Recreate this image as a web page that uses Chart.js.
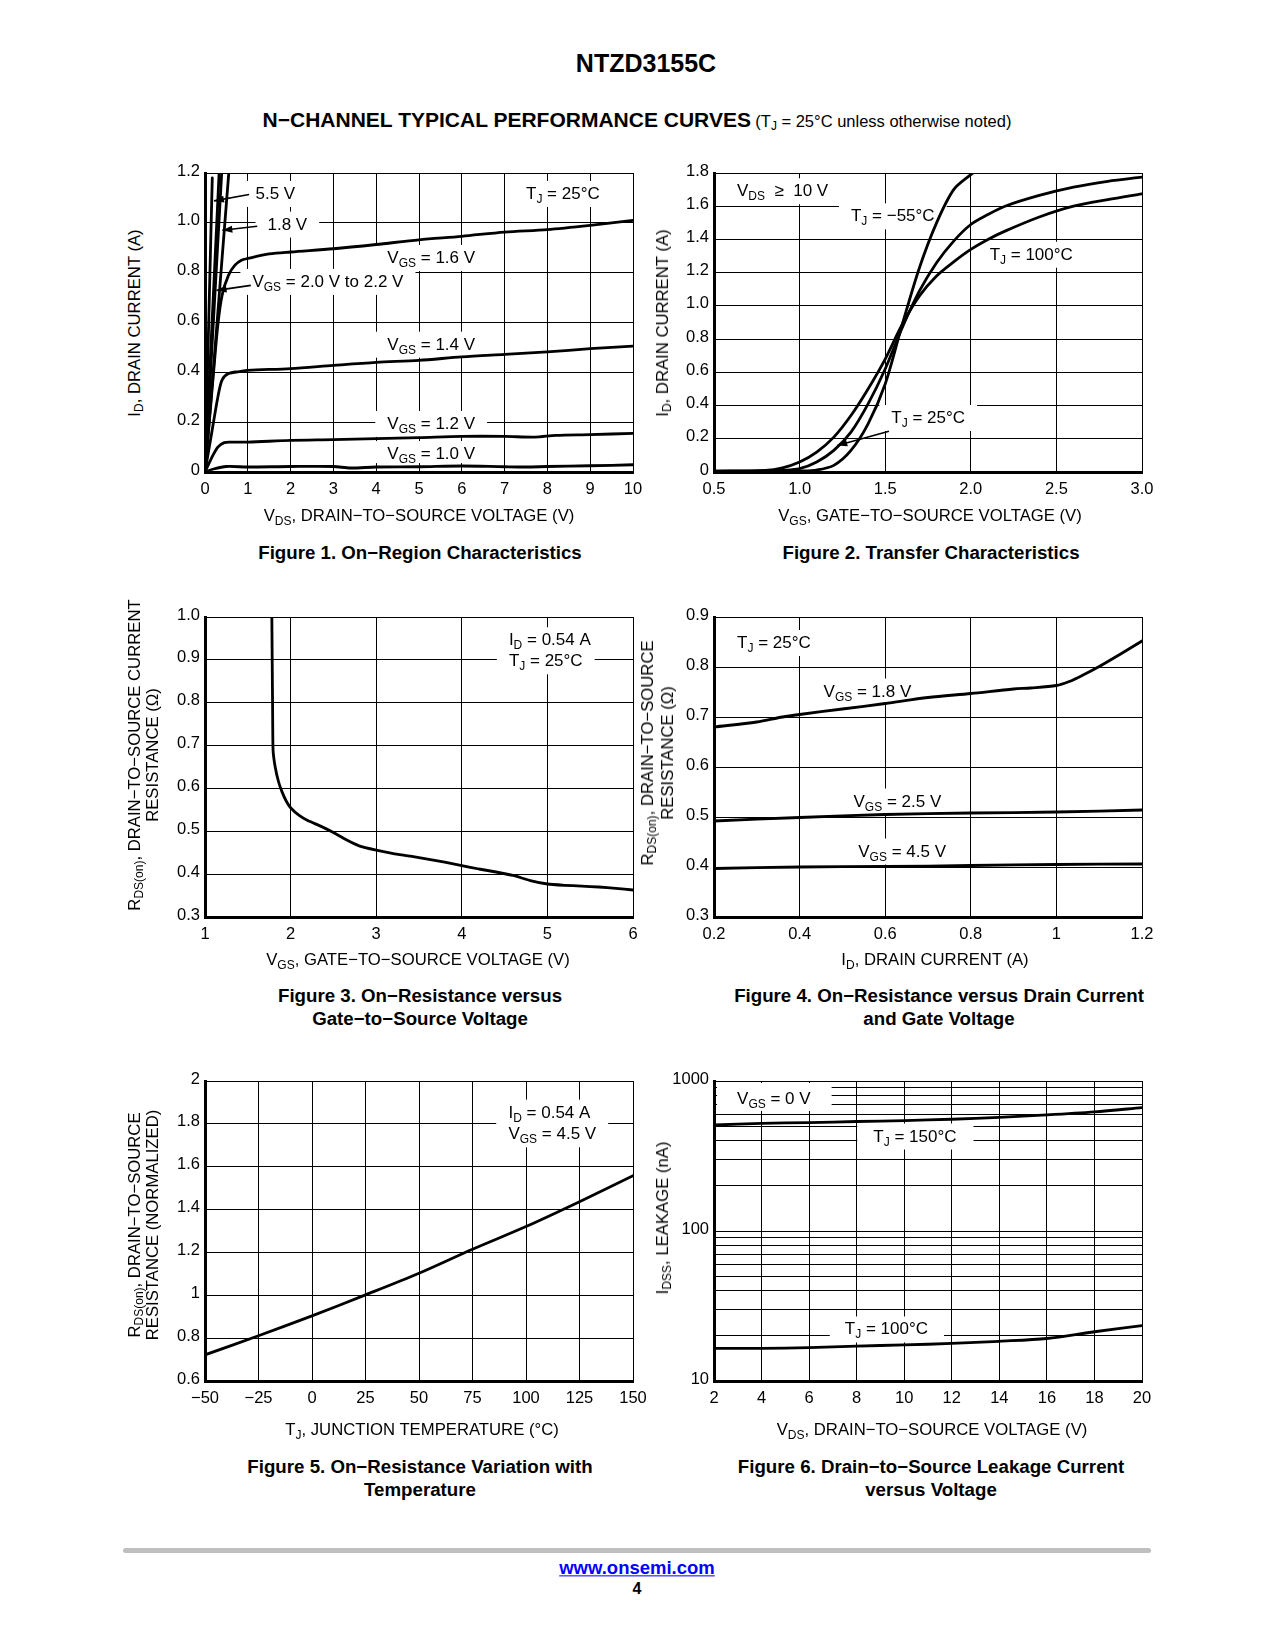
<!DOCTYPE html>
<html>
<head>
<meta charset="utf-8">
<title>NTZD3155C N-Channel Typical Performance Curves</title>
<script src="https://cdn.jsdelivr.net/npm/chart.js@4.4.1/dist/chart.umd.min.js"></script>
<style>
  body { margin: 0; background: #fff; }
  #page { position: relative; width: 1275px; height: 1650px; overflow: hidden;
          font-family: "Liberation Sans", Arial, Helvetica, sans-serif; color: #000; }
  #page canvas { position: absolute; z-index: 1; }
  .t { position: absolute; white-space: nowrap; text-align: center; z-index: 2;
       transform: translate(-50%, -50%); line-height: 1.15; }
  .rot { transform: translate(-50%, -50%) rotate(-90deg); line-height: 18px; }
  .ax { font-size: 16.7px; }
  .cap { font-size: 18.7px; font-weight: bold; line-height: 23px; }
  sub { font-size: 72%; vertical-align: -0.28em; line-height: 0; }
  #rule { position: absolute; left: 123px; top: 1548px; width: 1028px; height: 5px;
          background: #bfbfbf; border-radius: 3px; }
</style>
</head>
<body>
<div id="page">
  <div class="t" style="left:646px; top:63px; font-size:25px; font-weight:bold;">NTZD3155C</div>
  <div class="t" style="left:637px; top:120px;"><b style="font-size:21px;">N−CHANNEL TYPICAL PERFORMANCE CURVES</b> <span style="font-size:16.5px;">(T<sub>J</sub> = 25°C unless otherwise noted)</span></div>

  <canvas id="fig1"></canvas>
  <canvas id="fig2"></canvas>
  <canvas id="fig3"></canvas>
  <canvas id="fig4"></canvas>
  <canvas id="fig5"></canvas>
  <canvas id="fig6"></canvas>

  <!-- axis titles -->
  <div class="t ax rot" style="left:135px; top:323px;">I<sub>D</sub>, DRAIN CURRENT (A)</div>
  <div class="t ax" style="left:419px; top:516px;">V<sub>DS</sub>, DRAIN−TO−SOURCE VOLTAGE (V)</div>
  <div class="t ax rot" style="left:663px; top:323px;">I<sub>D</sub>, DRAIN CURRENT (A)</div>
  <div class="t ax" style="left:930px; top:516px;">V<sub>GS</sub>, GATE−TO−SOURCE VOLTAGE (V)</div>

  <div class="t ax rot" style="left:144px; top:755px;">R<sub>DS(on)</sub>, DRAIN−TO−SOURCE CURRENT<br>RESISTANCE (Ω)</div>
  <div class="t ax" style="left:418px; top:960px;">V<sub>GS</sub>, GATE−TO−SOURCE VOLTAGE (V)</div>
  <div class="t ax rot" style="left:658px; top:753px; line-height:20px;">R<sub>DS(on)</sub>, DRAIN−TO−SOURCE<br>RESISTANCE (Ω)</div>
  <div class="t ax" style="left:935px; top:960px;">I<sub>D</sub>, DRAIN CURRENT (A)</div>

  <div class="t ax rot" style="left:144px; top:1225px;">R<sub>DS(on)</sub>, DRAIN−TO−SOURCE<br>RESISTANCE (NORMALIZED)</div>
  <div class="t ax" style="left:422px; top:1430px;">T<sub>J</sub>, JUNCTION TEMPERATURE (°C)</div>
  <div class="t ax rot" style="left:663px; top:1218px;">I<sub>DSS</sub>, LEAKAGE (nA)</div>
  <div class="t ax" style="left:932px; top:1430px;">V<sub>DS</sub>, DRAIN−TO−SOURCE VOLTAGE (V)</div>

  <!-- captions -->
  <div class="t cap" style="left:420px; top:552px;">Figure 1. On−Region Characteristics</div>
  <div class="t cap" style="left:931px; top:552px;">Figure 2. Transfer Characteristics</div>
  <div class="t cap" style="left:420px; top:1007px;">Figure 3. On−Resistance versus<br>Gate−to−Source Voltage</div>
  <div class="t cap" style="left:939px; top:1007px;">Figure 4. On−Resistance versus Drain Current<br>and Gate Voltage</div>
  <div class="t cap" style="left:420px; top:1478px;">Figure 5. On−Resistance Variation with<br>Temperature</div>
  <div class="t cap" style="left:931px; top:1478px;">Figure 6. Drain−to−Source Leakage Current<br>versus Voltage</div>

  <div id="rule"></div>
  <div class="t" style="left:637px; top:1568px; font-size:18.5px; font-weight:bold; color:#0000ff; text-decoration:underline;">www.onsemi.com</div>
  <div class="t" style="left:637px; top:1589px; font-size:16px; font-weight:bold;">4</div>
</div>

<script>
// ---------- Figure 1: On-Region Characteristics (VDS, ID) ----------
const fig1XTicks = [0, 1, 2, 3, 4, 5, 6, 7, 8, 9, 10];
const fig1YTicks = [0, 0.2, 0.4, 0.6, 0.8, 1.0, 1.2];
const fig1YLabels = ['0', '0.2', '0.4', '0.6', '0.8', '1.0', '1.2'];
const fig1Vgs55 = [[0, 0], [0.17, 1.18]];
const fig1Vgs22 = [[0, 0], [0.33, 1.2]];
const fig1Vgs20 = [[0, 0], [0.39, 1.2]];
const fig1Vgs18 = [[0, 0], [0.2, 0.42], [0.4, 0.86], [0.56, 1.21]];
const fig1Vgs16 = [[0, 0], [0.1, 0.2], [0.2, 0.4], [0.3, 0.59], [0.4, 0.71], [0.55, 0.79], [0.7, 0.83],
                   [0.85, 0.85], [1, 0.857], [1.5, 0.875], [2, 0.883], [3, 0.896], [4, 0.913],
                   [5, 0.932], [6, 0.946], [7, 0.963], [8, 0.973], [9, 0.99], [10, 1.01]];
const fig1Vgs14 = [[0, 0], [0.15, 0.15], [0.3, 0.3], [0.4, 0.37], [0.55, 0.395], [0.8, 0.403],
                   [1, 0.408], [2, 0.415], [3, 0.428], [4, 0.44], [5, 0.448], [6, 0.462],
                   [7, 0.472], [8, 0.482], [9, 0.495], [10, 0.505]];
const fig1Vgs12 = [[0, 0], [0.15, 0.055], [0.3, 0.1], [0.45, 0.118], [0.6, 0.12], [1, 0.12],
                   [2, 0.127], [3, 0.13], [4, 0.134], [5, 0.138], [6, 0.143], [7, 0.143],
                   [7.7, 0.14], [8.2, 0.147], [9, 0.15], [10, 0.155]];
const fig1Vgs10 = [[0, 0], [0.2, 0.012], [0.5, 0.022], [1, 0.02], [2, 0.022], [3, 0.022],
                   [3.4, 0.016], [4, 0.02], [5, 0.021], [6, 0.024], [7, 0.021], [7.5, 0.02],
                   [8, 0.022], [9, 0.025], [10, 0.029]];

// ---------- Figure 2: Transfer Characteristics (VGS, ID) ----------
const fig2XTicks = [0.5, 1.0, 1.5, 2.0, 2.5, 3.0];
const fig2XLabels = ['0.5', '1.0', '1.5', '2.0', '2.5', '3.0'];
const fig2YTicks = [0, 0.2, 0.4, 0.6, 0.8, 1.0, 1.2, 1.4, 1.6, 1.8];
const fig2YLabels = ['0', '0.2', '0.4', '0.6', '0.8', '1.0', '1.2', '1.4', '1.6', '1.8'];
const fig2Tj100 = [[0.5, 0.005], [0.8, 0.01], [0.9, 0.025], [1.0, 0.06], [1.1, 0.12], [1.2, 0.21],
                   [1.3, 0.34], [1.4, 0.5], [1.5, 0.68], [1.6, 0.89], [1.7, 1.06], [1.8, 1.18],
                   [1.9, 1.265], [2.0, 1.34], [2.1, 1.4], [2.2, 1.45], [2.4, 1.535], [2.6, 1.6],
                   [2.8, 1.64], [3.0, 1.675]];
const fig2Tj25 = [[0.5, 0.005], [0.8, 0.006], [0.9, 0.01], [1.0, 0.02], [1.1, 0.06], [1.2, 0.13],
                  [1.3, 0.24], [1.4, 0.41], [1.5, 0.62], [1.6, 0.87], [1.7, 1.09], [1.8, 1.26],
                  [1.9, 1.39], [2.0, 1.49], [2.1, 1.55], [2.2, 1.6], [2.4, 1.665], [2.6, 1.715],
                  [2.8, 1.75], [3.0, 1.775]];
const fig2TjM55 = [[0.5, 0.003], [0.9, 0.004], [1.0, 0.006], [1.1, 0.012], [1.2, 0.04], [1.3, 0.13],
                   [1.4, 0.29], [1.5, 0.53], [1.6, 0.89], [1.7, 1.23], [1.8, 1.5], [1.9, 1.7],
                   [2.0, 1.79], [2.04, 1.82]];

// ---------- Figure 3: RDS(on) vs VGS ----------
const fig3XTicks = [1, 2, 3, 4, 5, 6];
const fig3YTicks = [0.3, 0.4, 0.5, 0.6, 0.7, 0.8, 0.9, 1.0];
const fig3YLabels = ['0.3', '0.4', '0.5', '0.6', '0.7', '0.8', '0.9', '1.0'];
const fig3Rds = [[1.78, 1.02], [1.785, 0.9], [1.79, 0.78], [1.795, 0.69], [1.82, 0.65], [1.86, 0.615],
                 [1.9, 0.592], [1.95, 0.57], [2.0, 0.555], [2.1, 0.537], [2.2, 0.525], [2.35, 0.512],
                 [2.5, 0.497], [2.65, 0.48], [2.8, 0.466], [3.0, 0.456], [3.2, 0.448], [3.4, 0.442],
                 [3.6, 0.435], [3.8, 0.428], [4.0, 0.42], [4.2, 0.412], [4.4, 0.405], [4.6, 0.397],
                 [4.8, 0.385], [5.0, 0.377], [5.2, 0.374], [5.4, 0.372], [5.6, 0.37], [5.8, 0.367],
                 [6.0, 0.363]];

// ---------- Figure 4: RDS(on) vs ID ----------
const fig4XTicks = [0.2, 0.4, 0.6, 0.8, 1.0, 1.2];
const fig4XLabels = ['0.2', '0.4', '0.6', '0.8', '1', '1.2'];
const fig4YTicks = [0.3, 0.4, 0.5, 0.6, 0.7, 0.8, 0.9];
const fig4YLabels = ['0.3', '0.4', '0.5', '0.6', '0.7', '0.8', '0.9'];
const fig4Vgs18 = [[0.2, 0.68], [0.3, 0.69], [0.36, 0.7], [0.4, 0.705], [0.5, 0.716], [0.6, 0.727],
                   [0.7, 0.739], [0.8, 0.747], [0.9, 0.756], [0.94, 0.758], [1.0, 0.763],
                   [1.03, 0.771], [1.06, 0.783], [1.1, 0.801], [1.15, 0.826], [1.2, 0.852]];
const fig4Vgs25 = [[0.2, 0.492], [0.4, 0.499], [0.6, 0.505], [0.8, 0.508], [1.0, 0.51], [1.2, 0.514]];
const fig4Vgs45 = [[0.2, 0.397], [0.4, 0.4], [0.6, 0.401], [0.8, 0.403], [1.0, 0.405], [1.2, 0.406]];

// ---------- Figure 5: RDS(on) vs temperature ----------
const fig5XTicks = [-50, -25, 0, 25, 50, 75, 100, 125, 150];
const fig5XLabels = ['−50', '−25', '0', '25', '50', '75', '100', '125', '150'];
const fig5YTicks = [0.6, 0.8, 1.0, 1.2, 1.4, 1.6, 1.8, 2.0];
const fig5YLabels = ['0.6', '0.8', '1', '1.2', '1.4', '1.6', '1.8', '2'];
const fig5Rds = [[-50, 0.722], [-25, 0.811], [0, 0.904], [25, 1.002], [50, 1.103], [75, 1.215],
                 [100, 1.321], [125, 1.437], [150, 1.558]];

// ---------- Figure 6: IDSS leakage vs VDS ----------
const fig6XTicks = [2, 4, 6, 8, 10, 12, 14, 16, 18, 20];
const fig6YTicks = [10, 20, 30, 40, 50, 60, 70, 80, 90, 100, 200, 300, 400, 500, 600, 700, 800, 900, 1000];
const fig6YLabeled = [10, 100, 1000];
const fig6Tj150 = [[2, 509], [4, 522], [6, 528], [8, 537], [10, 545], [12, 556], [14, 573], [16, 594],
                   [18, 622], [20, 665]];
const fig6Tj100 = [[2, 16.5], [4, 16.5], [6, 16.7], [8, 17.1], [10, 17.4], [12, 17.8], [14, 18.4],
                   [16, 19.2], [18, 21.3], [20, 23.4]];

const FONT = '"Liberation Sans", Arial, Helvetica, sans-serif';
Chart.defaults.font.family = FONT;
Chart.defaults.font.size = 16.5;
Chart.defaults.color = '#000';

// text like "V_{GS} = 1.6 V" -> pieces with subscripts
function richParts(s) {
    const out = [];
    const re = /_\{([^}]*)\}/g;
    let last = 0, m;
    while ((m = re.exec(s))) {
        if (m.index > last) out.push({ t: s.slice(last, m.index) });
        out.push({ t: m[1], sub: true });
        last = re.lastIndex;
    }
    if (last < s.length) out.push({ t: s.slice(last) });
    return out;
}

function partFont(p) {
    return (p.sub ? 12 : 17) + 'px ' + FONT;
}

function richWidth(ctx, parts) {
    let w = 0;
    parts.forEach(p => { ctx.font = partFont(p); w += ctx.measureText(p.t).width; });
    return w;
}

// in-plot labels (white box behind, masks grid) and leader lines
const notesPlugin = {
    id: 'notes',
    beforeDatasetsDraw(chart, args, opts) {
        const labels = opts.labels || [];
        if (!labels.length) return;
        const ctx = chart.ctx, a = chart.chartArea;
        ctx.save();
        ctx.beginPath();
        ctx.rect(a.left + 2, a.top + 1, a.right - a.left - 3, a.bottom - a.top - 3);
        ctx.clip();
        ctx.fillStyle = '#fff';
        labels.forEach(l => {
            const w = richWidth(ctx, richParts(l.text));
            const px = chart.scales.x.getPixelForValue(l.x);
            const py = chart.scales.y.getPixelForValue(l.y);
            const padL = l.padL ?? 12, padR = l.padR ?? 12, padT = l.padT ?? 12, padB = l.padB ?? 14;
            ctx.fillRect(px - padL, py - padT, w + padL + padR, padT + padB);
        });
        ctx.restore();
    },
    afterDatasetsDraw(chart, args, opts) {
        const ctx = chart.ctx;
        const xs = chart.scales.x, ys = chart.scales.y;
        ctx.save();
        (opts.leaders || []).forEach(d => {
            const x1 = xs.getPixelForValue(d.x1), y1 = ys.getPixelForValue(d.y1);
            const x2 = xs.getPixelForValue(d.x2), y2 = ys.getPixelForValue(d.y2);
            ctx.strokeStyle = '#000';
            ctx.lineWidth = 1.6;
            ctx.beginPath();
            ctx.moveTo(x1, y1);
            ctx.lineTo(x2, y2);
            ctx.stroke();
            if (d.arrow) {
                const ang = Math.atan2(y2 - y1, x2 - x1);
                ctx.fillStyle = '#000';
                ctx.beginPath();
                ctx.moveTo(x2, y2);
                ctx.lineTo(x2 - 10 * Math.cos(ang) + 3.5 * Math.sin(ang), y2 - 10 * Math.sin(ang) - 3.5 * Math.cos(ang));
                ctx.lineTo(x2 - 10 * Math.cos(ang) - 3.5 * Math.sin(ang), y2 - 10 * Math.sin(ang) + 3.5 * Math.cos(ang));
                ctx.closePath();
                ctx.fill();
            }
        });
        ctx.fillStyle = '#000';
        ctx.textBaseline = 'alphabetic';
        ctx.textAlign = 'left';
        (opts.labels || []).forEach(l => {
            let px = xs.getPixelForValue(l.x);
            const base = ys.getPixelForValue(l.y) + 6;
            richParts(l.text).forEach(p => {
                ctx.font = partFont(p);
                ctx.fillText(p.t, px, p.sub ? base + 4 : base);
                px += ctx.measureText(p.t).width;
            });
        });
        ctx.restore();
    }
};
Chart.register(notesPlugin);

function curve(points, tension) {
    return {
        data: points.map(p => ({ x: p[0], y: p[1] })),
        showLine: true,
        borderColor: '#000',
        borderWidth: 2.8,
        pointRadius: 0,
        tension: tension === undefined ? 0.3 : tension,
        borderCapStyle: 'round',
        borderJoinStyle: 'round'
    };
}

function fixedTicks(values) {
    return scale => { scale.ticks = values.map(v => ({ value: v })); };
}

// plot box in page pixels, canvas placed round it
function geometry(col, row) {
    const cols = [{ left: 150, w: 510, plotL: 205, plotR: 633 }, { left: 655, w: 515, plotL: 714, plotR: 1142 }];
    const rows = [[173, 472], [617, 917], [1081, 1381]];
    const c = cols[col], r = rows[row];
    return {
        left: c.left, top: r[0] - 33, w: c.w, h: r[1] - r[0] + 73,
        yAxisW: c.plotL - c.left, padTop: 33, padRight: c.left + c.w - c.plotR, xAxisH: 40
    };
}

function axis(g, isX, spec) {
    return {
        type: spec.type || 'linear',
        position: isX ? 'bottom' : 'left',
        min: spec.min,
        max: spec.max,
        afterBuildTicks: fixedTicks(spec.ticks),
        afterFit: s => { if (isX) s.height = g.xAxisH; else s.width = g.yAxisW; },
        ticks: {
            autoSkip: false,
            maxRotation: 0,
            padding: isX ? 8 : 5,
            labelOffset: isX ? 0 : -2,
            callback: spec.label
        },
        grid: { color: '#000', lineWidth: 1, drawTicks: false },
        border: { color: '#000', width: 3 }
    };
}

function buildChart(id, g, xSpec, ySpec, datasets, notes) {
    const canvas = document.getElementById(id);
    canvas.width = g.w;
    canvas.height = g.h;
    canvas.style.left = g.left + 'px';
    canvas.style.top = g.top + 'px';
    return new Chart(canvas, {
        type: 'scatter',
        data: { datasets: datasets },
        options: {
            responsive: false,
            animation: false,
            layout: { padding: { top: g.padTop, right: g.padRight, left: 0, bottom: 0 } },
            scales: { x: axis(g, true, xSpec), y: axis(g, false, ySpec) },
            plugins: { legend: { display: false }, tooltip: { enabled: false }, notes: notes }
        }
    });
}

const asText = v => String(v);
const byIndex = arr => (v, i) => arr[i];

buildChart('fig1', geometry(0, 0),
    { min: 0, max: 10, ticks: fig1XTicks, label: asText },
    { min: 0, max: 1.2, ticks: fig1YTicks, label: byIndex(fig1YLabels) },
    [curve(fig1Vgs55, 0), curve(fig1Vgs22, 0), curve(fig1Vgs20, 0), curve(fig1Vgs18, 0.2),
     curve(fig1Vgs16), curve(fig1Vgs14), curve(fig1Vgs12), curve(fig1Vgs10)],
    {
        labels: [
            { x: 1.18, y: 1.12, text: '5.5 V' },
            { x: 1.46, y: 0.997, text: '1.8 V' },
            { x: 1.107, y: 0.767, text: 'V_{GS} = 2.0 V to 2.2 V' },
            { x: 4.26, y: 0.863, text: 'V_{GS} = 1.6 V' },
            { x: 4.26, y: 0.515, text: 'V_{GS} = 1.4 V' },
            { x: 4.26, y: 0.197, text: 'V_{GS} = 1.2 V' },
            { x: 4.26, y: 0.076, text: 'V_{GS} = 1.0 V', padB: 10 },
            { x: 7.5, y: 1.12, text: 'T_{J} = 25°C' }
        ],
        leaders: [
            { x1: 1.03, y1: 1.114, x2: 0.21, y2: 1.088, arrow: true },
            { x1: 1.22, y1: 0.986, x2: 0.405, y2: 0.97, arrow: true },
            { x1: 1.07, y1: 0.749, x2: 0.27, y2: 0.729, arrow: true }
        ]
    });

buildChart('fig2', geometry(1, 0),
    { min: 0.5, max: 3.0, ticks: fig2XTicks, label: byIndex(fig2XLabels) },
    { min: 0, max: 1.8, ticks: fig2YTicks, label: byIndex(fig2YLabels) },
    [curve(fig2Tj100), curve(fig2Tj25), curve(fig2TjM55)],
    {
        labels: [
            { x: 0.634, y: 1.696, text: 'V_{DS}  ≥  10 V' },
            { x: 1.30, y: 1.545, text: 'T_{J} = −55°C' },
            { x: 2.11, y: 1.314, text: 'T_{J} = 100°C' },
            { x: 1.536, y: 0.331, text: 'T_{J} = 25°C' }
        ],
        leaders: [
            { x1: 1.522, y1: 0.245, x2: 1.22, y2: 0.159, arrow: true }
        ]
    });

buildChart('fig3', geometry(0, 1),
    { min: 1, max: 6, ticks: fig3XTicks, label: asText },
    { min: 0.3, max: 1.0, ticks: fig3YTicks, label: byIndex(fig3YLabels) },
    [curve(fig3Rds, 0.15)],
    {
        labels: [
            { x: 4.55, y: 0.948, text: 'I_{D} = 0.54 A' },
            { x: 4.55, y: 0.899, text: 'T_{J} = 25°C' }
        ]
    });

buildChart('fig4', geometry(1, 1),
    { min: 0.2, max: 1.2, ticks: fig4XTicks, label: byIndex(fig4XLabels) },
    { min: 0.3, max: 0.9, ticks: fig4YTicks, label: byIndex(fig4YLabels) },
    [curve(fig4Vgs18), curve(fig4Vgs25), curve(fig4Vgs45)],
    {
        labels: [
            { x: 0.254, y: 0.85, text: 'T_{J} = 25°C' },
            { x: 0.456, y: 0.753, text: 'V_{GS} = 1.8 V' },
            { x: 0.526, y: 0.533, text: 'V_{GS} = 2.5 V' },
            { x: 0.537, y: 0.433, text: 'V_{GS} = 4.5 V' }
        ]
    });

buildChart('fig5', geometry(0, 2),
    { min: -50, max: 150, ticks: fig5XTicks, label: byIndex(fig5XLabels) },
    { min: 0.6, max: 2.0, ticks: fig5YTicks, label: byIndex(fig5YLabels) },
    [curve(fig5Rds)],
    {
        labels: [
            { x: 91.8, y: 1.857, text: 'I_{D} = 0.54 A' },
            { x: 91.8, y: 1.756, text: 'V_{GS} = 4.5 V' }
        ]
    });

buildChart('fig6', geometry(1, 2),
    { min: 2, max: 20, ticks: fig6XTicks, label: asText },
    { type: 'logarithmic', min: 10, max: 1000, ticks: fig6YTicks,
      label: v => (fig6YLabeled.includes(v) ? String(v) : '') },
    [curve(fig6Tj150), curve(fig6Tj100)],
    {
        labels: [
            { x: 2.97, y: 771, text: 'V_{GS} = 0 V', padL: 20, padR: 21, padT: 15, padB: 13 },
            { x: 8.7, y: 433, text: 'T_{J} = 150°C', padL: 16, padR: 17 },
            { x: 7.5, y: 22.4, text: 'T_{J} = 100°C', padL: 15, padR: 16 }
        ]
    });
</script>
</body>
</html>
